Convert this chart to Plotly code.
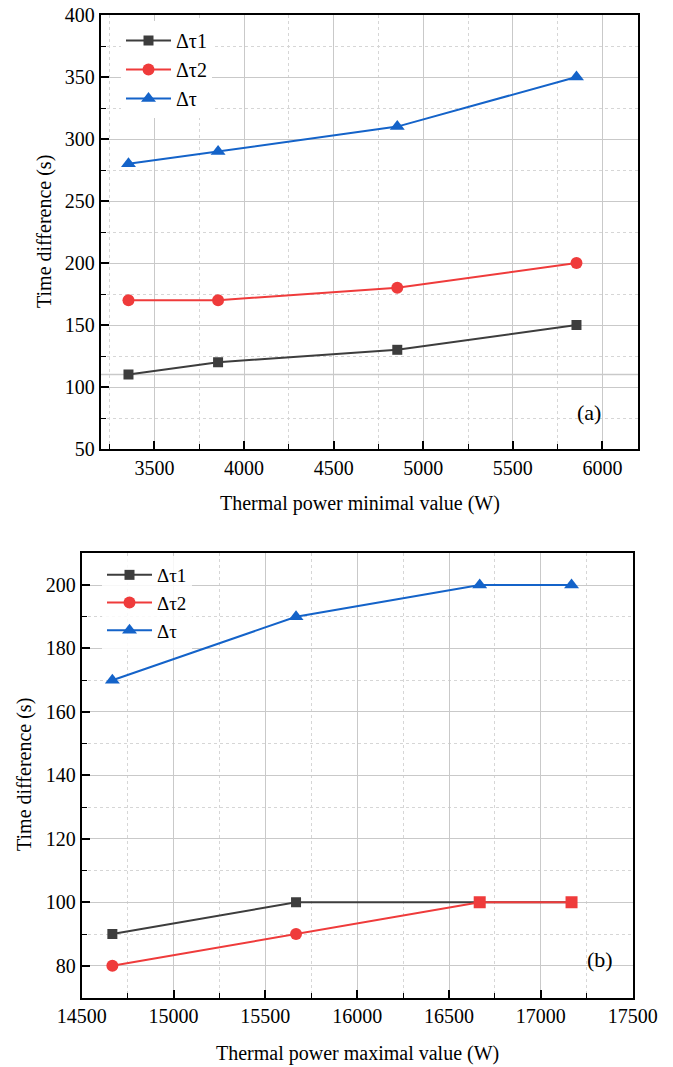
import plotly.graph_objects as go

# ---- data ----
x_min_power = [3355, 3855, 4855, 5855]
a_dt1 = [110, 120, 130, 150]
a_dt2 = [170, 170, 180, 200]
a_dt = [280, 290, 310, 350]

x_max_power = [14667, 15667, 16667, 17167]
b_dt1 = [90, 100, 100, 100]
b_dt2 = [80, 90, 100, 100]
b_dt = [170, 190, 200, 200]
b_dt2_symbols = ["circle", "circle", "square", "square"]

names = ["Δτ1", "Δτ2", "Δτ"]
colors = ["#3d3d3d", "#ef3b3b", "#1463c9"]
symbols = ["square", "circle", "triangle-up"]
msizes = [10, 12, 13]

FONT = "Liberation Serif"
W, H = 673, 1067

fig = go.Figure()

for i, (yv, nm) in enumerate(zip([a_dt1, a_dt2, a_dt], names)):
    fig.add_trace(go.Scatter(
        x=x_min_power, y=yv, name=nm, mode="lines+markers",
        line=dict(color=colors[i], width=2),
        marker=dict(color=colors[i], symbol=symbols[i], size=msizes[i]),
        xaxis="x", yaxis="y", legend="legend"))

b_syms = [symbols[0], b_dt2_symbols, symbols[2]]
for i, (yv, nm) in enumerate(zip([b_dt1, b_dt2, b_dt], names)):
    fig.add_trace(go.Scatter(
        x=x_max_power, y=yv, name=nm, mode="lines+markers",
        line=dict(color=colors[i], width=2),
        marker=dict(color=colors[i], symbol=b_syms[i], size=msizes[i]),
        xaxis="x2", yaxis="y2", legend="legend2"))

grid_major = "#c9c9c9"
grid_minor = "#d6d6d6"


def ax(domain, rng, tick0, dtick, mdtick, anchor):
    return dict(
        domain=domain, range=rng, tick0=tick0, dtick=dtick, anchor=anchor,
        automargin=False, tickformat="d",
        showline=True, linecolor="black", linewidth=1.8, mirror=True,
        ticks="inside", ticklen=8, tickwidth=1.5, tickcolor="black",
        showgrid=True, gridcolor=grid_major, gridwidth=1, zeroline=False,
        tickfont=dict(family=FONT, size=20, color="black"),
        minor=dict(dtick=mdtick, ticks="inside", ticklen=5, tickwidth=1.2,
                   tickcolor="black", showgrid=True, gridcolor=grid_minor,
                   griddash="dot", gridwidth=1),
    )


def px_x(p):
    return p / W


def px_y(p):
    return 1 - p / H


fig.update_layout(
    template="none",
    width=W, height=H,
    margin=dict(l=0, r=0, t=0, b=0, autoexpand=False),
    paper_bgcolor="white", plot_bgcolor="white",
    font=dict(family=FONT, color="black", size=20),
    xaxis=ax([px_x(100.7), px_x(638.3)], [3200, 6200], 3500, 500, 250, "y"),
    yaxis=ax([px_y(449), px_y(15)], [50, 400], 50, 50, 25, "x"),
    xaxis2=ax([px_x(81.7), px_x(632.7)], [14500, 17500], 14500, 500, 250, "y2"),
    yaxis2=ax([px_y(997.5), px_y(553.3)], [70, 210], 80, 20, 10, "x2"),
    legend=dict(x=px_x(121), y=px_y(21), xanchor="left", yanchor="top",
                bgcolor="white", borderwidth=0, tracegroupgap=0, itemwidth=45,
                font=dict(family=FONT, size=20, color="black")),
    legend2=dict(x=px_x(102), y=px_y(556), xanchor="left", yanchor="top",
                 bgcolor="rgba(255,255,255,0.85)", borderwidth=0, tracegroupgap=0,
                 itemwidth=45,
                 font=dict(family=FONT, size=19, color="black")),
    showlegend=True,
)

# extra horizontal reference line seen in panel (a)
fig.add_shape(type="line", xref="x domain", yref="y", x0=0, x1=1, y0=110, y1=110,
              line=dict(color=grid_major, width=1.5), layer="below")

ann = [
    dict(text="(a)", x=px_x(589), y=px_y(412), size=22, angle=0),
    dict(text="(b)", x=px_x(600), y=px_y(959), size=22, angle=0),
    dict(text="Thermal power minimal value (W)", x=px_x(360), y=px_y(503), size=20, angle=0),
    dict(text="Thermal power maximal value (W)", x=px_x(357), y=px_y(1053), size=20, angle=0),
    dict(text="Time difference (s)", x=px_x(44), y=px_y(232), size=20, angle=-90),
    dict(text="Time difference (s)", x=px_x(24), y=px_y(775), size=20, angle=-90),
]
for a in ann:
    fig.add_annotation(text=a["text"], x=a["x"], y=a["y"], xref="paper", yref="paper",
                       xanchor="center", yanchor="middle", showarrow=False,
                       textangle=a["angle"],
                       font=dict(family=FONT, size=a["size"], color="black"))

fig.write_html("out.html")
